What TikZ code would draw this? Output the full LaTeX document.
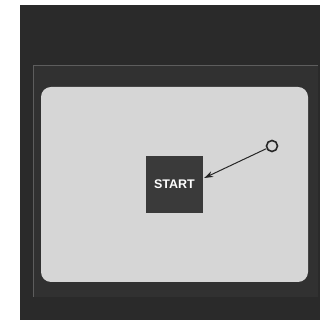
\documentclass[tikz,border=0pt]{standalone}
\usepackage{fontspec}
\setsansfont{Liberation Sans}
\usetikzlibrary{arrows.meta,positioning,calc}

\definecolor{casecol}{HTML}{2A2A2A}
\definecolor{bezelcol}{HTML}{313131}
\definecolor{screencol}{HTML}{D6D6D6}
\definecolor{keycol}{HTML}{3A3A3A}

\begin{document}
\begin{tikzpicture}[
    x=1pt, y=1pt,
    keybox/.style={fill=keycol, minimum width=57pt, minimum height=57pt, inner sep=0pt,
        text=white, font=\sffamily\bfseries\fontsize{12.5}{14}\selectfont},
    dot/.style={circle, draw=black!85, line width=1.6pt, fill=screencol, minimum size=11pt, inner sep=0pt},
    arr/.style={-{Stealth[length=9pt, width=6pt]}, line width=1pt, black!85}
]
\useasboundingbox (0,0) rectangle (324,323);
\fill[white] (0,0) rectangle (324,323);
% monitor case and bezel
\fill[casecol] (20,3) rectangle (320,318);
\fill[bezelcol] (33,26) rectangle (318,258);
\draw[gray!60!casecol, line width=0.7pt] (33,26) -- (33,258) -- (318,258);
% screen
\fill[screencol, rounded corners=10pt] (41,41) rectangle (308,236);

% start key and pointer
\node[keybox] (start) at (174.5,138.5) {START};
\node[dot] (target) at (272,177) {};
\coordinate (tip) at ($(start.east)+(1,6.5)$);
\draw[arr] (target) -- (tip);
\end{tikzpicture}
\end{document}
